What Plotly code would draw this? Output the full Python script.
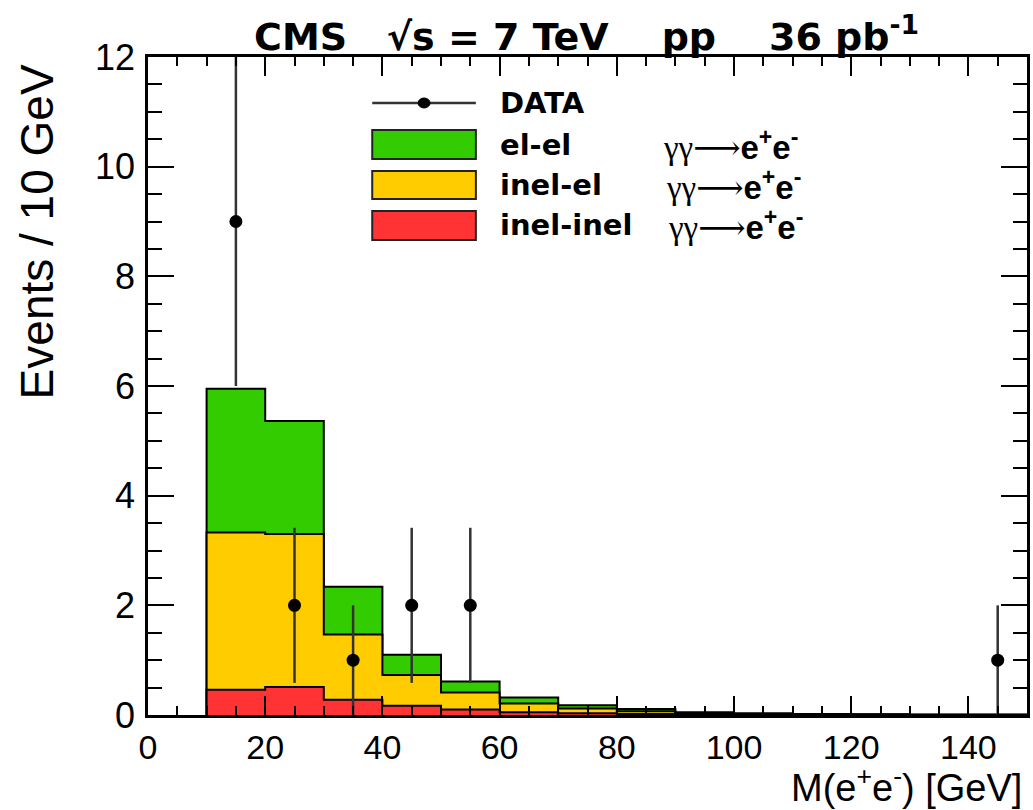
import plotly.graph_objects as go

# ---------------- data ----------------
bin_edges = [10, 20, 30, 40, 50, 60, 70, 80, 90, 100, 110, 120, 130, 140, 150]
inel_inel = [0.46, 0.51, 0.28, 0.17, 0.10, 0.05, 0.03, 0.02, 0.01, 0.006, 0.004, 0.003, 0.002, 0.002]
inel_el = [2.87, 2.79, 1.19, 0.56, 0.31, 0.16, 0.09, 0.05, 0.02, 0.014, 0.008, 0.005, 0.004, 0.003]
el_el = [2.62, 2.06, 0.87, 0.37, 0.20, 0.11, 0.06, 0.04, 0.02, 0.010, 0.008, 0.006, 0.004, 0.003]

data_x = [15, 25, 35, 45, 55, 145]
data_y = [9, 2, 1, 2, 2, 1]
data_err = [3.0, 1.414, 1.0, 1.414, 1.414, 1.0]

GREEN = "#33CC00"
YELLOW = "#FFCC00"
RED = "#FF3333"

# cumulative stacks
cum_red = list(inel_inel)
cum_yellow = [a + b for a, b in zip(inel_inel, inel_el)]
cum_green = [a + b + c for a, b, c in zip(inel_inel, inel_el, el_el)]


def step(vals):
    xs = [bin_edges[0]] + bin_edges[:-1] + [bin_edges[-1]]
    ys = [0] + list(vals) + [vals[-1]]
    return xs, ys


fig = go.Figure()
for vals, col in [(cum_green, GREEN), (cum_yellow, YELLOW), (cum_red, RED)]:
    xs, ys = step(vals)
    fig.add_trace(go.Scatter(x=xs, y=ys, mode="lines", line=dict(shape="hv", color="black", width=2),
                             fill="tozeroy", fillcolor=col, showlegend=False, hoverinfo="skip"))

fig.add_trace(go.Scatter(x=data_x, y=data_y, mode="markers",
                         marker=dict(color="black", size=13),
                         error_y=dict(type="data", array=data_err, width=0, color="#333333", thickness=2.5),
                         showlegend=False, cliponaxis=True))

FONT = "'Liberation Sans', Arial, Helvetica, sans-serif"
BOLD = "'DejaVu Sans', 'Liberation Sans', sans-serif"
SERIF = "'Liberation Serif', 'DejaVu Serif', serif"

fig.update_layout(
    width=1033, height=810,
    margin=dict(l=148, r=3, t=57, b=95),
    plot_bgcolor="white", paper_bgcolor="white",
    font=dict(family=FONT, color="black"),
)
fig.update_xaxes(range=[0, 150], tick0=0, dtick=20, ticks="inside", ticklen=19, tickwidth=2, tickcolor="black",
                 minor=dict(dtick=5, ticks="inside", ticklen=9, tickwidth=2, tickcolor="black"),
                 showline=True, linewidth=2.5, linecolor="black", mirror="ticks",
                 showgrid=False, zeroline=False, tickfont=dict(size=34, family=FONT, color="black"),
                 ticklabelstandoff=0)
fig.update_yaxes(range=[0, 12], tick0=0, dtick=2, ticks="inside", ticklen=26, tickwidth=2, tickcolor="black",
                 minor=dict(dtick=0.5, ticks="inside", ticklen=14, tickwidth=2, tickcolor="black"),
                 showline=True, linewidth=2.5, linecolor="black", mirror="ticks",
                 showgrid=False, zeroline=False, tickfont=dict(size=36, family=FONT, color="black"),
                 ticklabelstandoff=3)

# ---------------- texts ----------------
def px2x(px):
    return (px - 148) / 882.0


def px2y(py):
    return (715 - py) / 658.0


ann = []
ann.append(dict(text="<b>CMS&nbsp;&nbsp;&nbsp;√s = 7 TeV&nbsp;&nbsp;&nbsp;&nbsp;pp&nbsp;&nbsp;&nbsp;&nbsp;36 pb<sup>-1</sup></b>",
                x=px2x(588), y=px2y(34), xref="paper", yref="paper", xanchor="center", yanchor="middle",
                showarrow=False, font=dict(size=38, family=BOLD, color="black")))
ann.append(dict(text="M(e<sup>+</sup>e<sup>-</sup>) [GeV]", x=px2x(1026), y=px2y(810), xref="paper", yref="paper",
                xanchor="right", yanchor="bottom", showarrow=False, borderpad=0,
                font=dict(size=38, family=FONT, color="black")))
ann.append(dict(text="Events / 10 GeV", x=px2x(37), y=px2y(232), xref="paper", yref="paper",
                xanchor="center", yanchor="middle", textangle=-90, showarrow=False,
                font=dict(size=46, family=FONT, color="black")))

# legend (manual)
shapes = []
shapes.append(dict(type="line", xref="paper", yref="paper", x0=px2x(373), x1=px2x(477), y0=px2y(103), y1=px2y(103),
                   line=dict(color="#333333", width=2.5)))
shapes.append(dict(type="circle", xref="paper", yref="paper", x0=px2x(419), x1=px2x(431), y0=px2y(108), y1=px2y(98),
                   fillcolor="black", line=dict(color="black", width=1)))
leg_rows = [(GREEN, 130, 159, "el-el", 145, 663), (YELLOW, 171, 199, "inel-el", 185, 666),
            (RED, 211, 240, "inel-inel", 225, 668)]
for col, t, b, lab, yc, gx in leg_rows:
    shapes.append(dict(type="rect", xref="paper", yref="paper", x0=px2x(373), x1=px2x(477), y0=px2y(b), y1=px2y(t),
                       fillcolor=col, line=dict(color="#222222", width=2)))
    ann.append(dict(text="<b>" + lab + "</b>", x=px2x(499), y=px2y(yc), xref="paper", yref="paper",
                    xanchor="left", yanchor="middle", showarrow=False, font=dict(size=29, family=BOLD, color="black")))
    ann.append(dict(text="γγ⟶<b><span style=\"font-family:'Liberation Sans'\">e<sup>+</sup>e<sup>-</sup></span></b>",
                    x=px2x(gx), y=px2y(yc), xref="paper", yref="paper",
                    xanchor="left", yanchor="middle", showarrow=False, font=dict(size=33, family=SERIF, color="black")))
ann.append(dict(text="<b>DATA</b>", x=px2x(499), y=px2y(103), xref="paper", yref="paper",
                xanchor="left", yanchor="middle", showarrow=False, font=dict(size=29, family=BOLD, color="black")))

fig.update_layout(annotations=ann, shapes=shapes)
fig.write_html("out.html")
